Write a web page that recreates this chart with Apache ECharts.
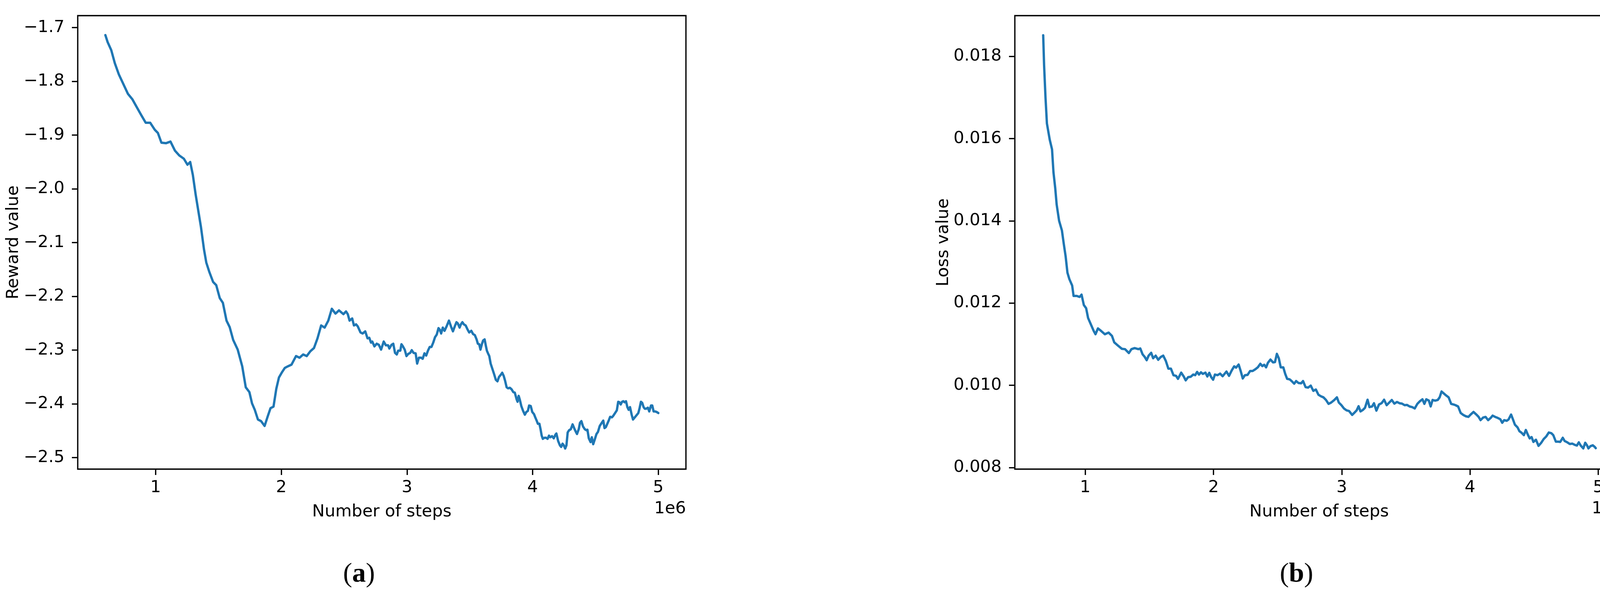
<!DOCTYPE html>
<html>
<head>
<meta charset="utf-8">
<script src="https://cdn.jsdelivr.net/npm/echarts@6/dist/echarts.min.js"></script>
<style>
html,body{margin:0;padding:0;background:#fff;overflow:hidden;}
#chart{width:4179px;height:1522px;}
</style>
</head>
<body>
<div id="chart"></div>
<script>
// ---------- data (steps in units of 1e6) ----------
const rewardSteps = [
  0.600,0.618,0.647,0.675,0.707,0.743,0.779,0.814,0.850,0.886,0.921,0.957,0.993,1.018,1.046,1.082,1.118,1.154,1.189,1.225,
  1.253,1.275,1.296,1.318,1.339,1.360,1.385,1.403,1.428,1.457,1.482,1.510,1.535,1.564,1.589,1.617,1.653,1.689,1.717,1.746,
  1.767,1.789,1.814,1.839,1.867,1.892,1.914,1.938,1.960,1.981,2.003,2.028,2.053,2.081,2.117,2.145,2.174,2.202,2.231,2.260,
  2.288,2.317,2.345,2.374,2.402,2.431,2.459,
  2.494,2.515,2.529,2.543,2.564,2.578,2.595,2.609,2.630,2.647,
  2.668,2.686,2.700,2.714,2.724,2.741,2.759,2.776,2.794,2.815,
  2.832,2.850,2.860,2.877,2.891,2.905,2.919,2.930,2.947,2.956,
  2.968,2.982,2.996,3.010,3.026,3.038,3.052,3.069,3.081,3.095,
  3.113,3.125,3.139,3.153,3.167,3.181,3.195,3.209,3.223,3.237,
  3.251,3.261,3.272,3.285,3.299,3.313,3.334,3.352,3.366,3.380,
  3.394,3.404,3.419,3.429,3.441,3.453,3.467,3.481,3.495,3.512,
  3.526,3.540,3.554,3.564,3.575,3.585,3.596,3.606,3.618,3.627,
  3.636,3.645,3.655,3.666,3.680,3.694,3.707,3.720,3.732,3.746,
  3.758,3.770,3.781,3.793,3.805,3.819,3.833,3.846,3.858,3.872,
  3.880,3.889,3.899,3.910,3.924,3.938,3.950,3.962,3.972,3.985,
  3.997,4.011,4.021,4.032,4.042,4.054,4.063,4.072,4.081,4.094,
  4.107,4.119,4.130,4.140,4.154,4.168,4.182,4.189,4.203,4.217,
  4.227,4.238,4.248,4.259,4.269,4.279,4.290,4.304,4.318,4.332,
  4.342,4.353,4.367,4.377,4.388,4.401,4.415,4.429,4.436,4.447,
  4.461,4.471,4.482,4.496,4.508,4.520,4.534,4.548,4.562,4.572,
  4.583,4.596,4.607,4.617,4.631,4.642,4.656,4.670,4.681,4.691,
  4.701,4.712,4.722,4.733,4.743,4.754,4.764,4.775,4.788,4.799,
  4.813,4.827,4.841,4.851,4.862,4.872,4.883,4.893,4.904,4.917,
  4.928,4.942,4.952,4.963,4.976,4.987,5.000];
const rewardValues = [
  -1.714,-1.727,-1.742,-1.766,-1.787,-1.805,-1.823,-1.833,-1.848,-1.863,-1.877,-1.877,-1.890,-1.896,-1.914,-1.915,-1.912,-1.929,-1.938,-1.944,
  -1.955,-1.950,-1.974,-2.010,-2.040,-2.070,-2.113,-2.137,-2.155,-2.173,-2.179,-2.203,-2.212,-2.245,-2.257,-2.281,-2.299,-2.330,-2.369,-2.378,
  -2.399,-2.411,-2.429,-2.432,-2.441,-2.423,-2.408,-2.405,-2.372,-2.351,-2.342,-2.333,-2.330,-2.327,-2.311,-2.314,-2.308,-2.311,-2.302,-2.296,
  -2.278,-2.254,-2.258,-2.245,-2.223,-2.232,-2.226,
  -2.233,-2.228,-2.233,-2.245,-2.241,-2.254,-2.252,-2.256,-2.267,-2.269,
  -2.265,-2.278,-2.277,-2.286,-2.284,-2.293,-2.288,-2.290,-2.299,-2.284,
  -2.291,-2.291,-2.297,-2.290,-2.288,-2.305,-2.308,-2.301,-2.301,-2.289,
  -2.293,-2.299,-2.311,-2.307,-2.305,-2.300,-2.305,-2.306,-2.325,-2.314,
  -2.314,-2.316,-2.306,-2.310,-2.301,-2.294,-2.294,-2.286,-2.276,-2.271,
  -2.259,-2.262,-2.269,-2.258,-2.264,-2.257,-2.245,-2.257,-2.265,-2.256,
  -2.248,-2.250,-2.258,-2.252,-2.248,-2.252,-2.254,-2.261,-2.267,-2.264,
  -2.270,-2.272,-2.280,-2.288,-2.289,-2.299,-2.289,-2.282,-2.280,-2.291,
  -2.301,-2.306,-2.311,-2.325,-2.335,-2.345,-2.355,-2.358,-2.350,-2.346,
  -2.342,-2.348,-2.357,-2.369,-2.371,-2.370,-2.373,-2.378,-2.379,-2.391,
  -2.396,-2.385,-2.393,-2.404,-2.413,-2.420,-2.415,-2.413,-2.403,-2.404,
  -2.415,-2.419,-2.425,-2.431,-2.437,-2.437,-2.447,-2.459,-2.465,-2.463,
  -2.463,-2.465,-2.459,-2.462,-2.460,-2.464,-2.457,-2.455,-2.469,-2.477,
  -2.480,-2.474,-2.477,-2.483,-2.477,-2.453,-2.449,-2.447,-2.438,-2.446,
  -2.451,-2.456,-2.447,-2.435,-2.432,-2.442,-2.447,-2.449,-2.448,-2.464,
  -2.471,-2.462,-2.475,-2.465,-2.456,-2.452,-2.441,-2.436,-2.431,-2.445,
  -2.443,-2.436,-2.430,-2.424,-2.425,-2.422,-2.417,-2.412,-2.396,-2.397,
  -2.401,-2.396,-2.395,-2.397,-2.395,-2.406,-2.411,-2.406,-2.420,-2.429,
  -2.425,-2.421,-2.417,-2.408,-2.396,-2.398,-2.406,-2.409,-2.409,-2.407,
  -2.414,-2.403,-2.403,-2.414,-2.414,-2.415,-2.417];

const lossSteps = [
  0.672,0.679,0.690,0.701,0.723,0.741,0.752,0.766,0.777,0.796,0.818,0.832,0.847,0.861,0.876,0.898,0.909,0.934,0.956,0.971,
  0.989,1.007,1.022,1.044,1.066,1.080,1.099,1.124,1.153,1.182,1.208,1.226,1.255,1.285,
  1.310,1.340,1.360,1.385,1.414,1.429,1.447,1.464,1.479,1.494,
  1.514,1.529,1.549,1.569,1.589,1.608,1.628,1.648,1.668,1.688,
  1.708,1.723,1.748,1.768,1.783,1.802,1.822,1.842,1.857,1.872,
  1.887,1.902,1.917,1.937,1.952,1.967,1.982,1.997,2.011,2.031,
  2.051,2.071,2.086,2.101,2.121,2.141,2.161,2.176,2.196,2.211,
  2.228,2.245,2.265,2.285,2.305,2.325,2.345,2.365,2.380,2.395,
  2.410,2.424,2.444,2.464,2.479,2.494,2.509,2.524,2.544,2.559,
  2.574,2.594,2.609,2.629,2.644,2.663,2.683,2.698,2.718,2.738,
  2.758,2.778,2.798,2.818,2.838,2.857,2.877,2.897,2.917,2.942,
  2.962,2.977,2.997,3.017,3.037,3.057,3.081,3.101,3.116,3.131,
  3.146,3.166,3.181,3.201,3.216,3.236,3.251,3.270,3.290,3.310,
  3.330,3.350,3.370,3.390,3.410,3.430,3.450,3.470,3.490,3.509,
  3.529,3.549,3.569,3.589,3.609,3.629,3.644,3.659,3.679,3.693,
  3.708,3.728,3.748,3.763,3.778,3.793,3.813,3.833,3.853,3.873,
  3.887,3.907,3.927,3.947,3.967,3.987,4.007,4.027,4.047,4.067,
  4.082,4.102,4.121,4.141,4.161,4.176,4.196,4.216,4.236,4.251,
  4.266,4.286,4.300,4.320,4.335,4.350,4.370,4.385,4.400,4.420,
  4.435,4.450,4.465,4.480,4.494,4.514,4.534,4.554,4.574,4.594,
  4.614,4.634,4.649,4.669,4.689,4.703,4.723,4.738,4.758,4.778,
  4.798,4.818,4.833,4.848,4.863,4.883,4.898,4.913,4.923,4.938,
  4.957,4.972,4.980];
const lossValues = [
  0.018513,0.017787,0.016998,0.016368,0.015973,0.015737,0.015185,0.014790,0.014396,0.014002,0.013765,0.013450,0.013134,0.012740,0.012582,0.012424,0.012172,0.012172,0.012148,0.012204,
  0.011951,0.011872,0.011636,0.011478,0.011320,0.011241,0.011383,0.011320,0.011241,0.011281,0.011202,0.011044,0.010965,0.010887,
  0.010878,0.010783,0.010878,0.010904,0.010878,0.010894,0.010752,0.010688,0.010609,0.010720,
  0.010790,0.010657,0.010720,0.010619,0.010688,0.010720,0.010593,0.010403,0.010403,0.010244,
  0.010229,0.010156,0.010308,0.010213,0.010118,0.010197,0.010206,0.010260,0.010245,0.010324,
  0.010260,0.010315,0.010276,0.010308,0.010213,0.010302,0.010197,0.010134,0.010260,0.010245,
  0.010283,0.010219,0.010276,0.010333,0.010229,0.010355,0.010460,0.010428,0.010504,0.010355,
  0.010165,0.010245,0.010251,0.010346,0.010346,0.010387,0.010435,0.010523,0.010466,0.010498,
  0.010435,0.010546,0.010625,0.010555,0.010562,0.010764,0.010657,0.010435,0.010435,0.010276,
  0.010156,0.010143,0.010102,0.010038,0.010102,0.010054,0.010048,0.010102,0.009953,0.009943,
  0.009991,0.009864,0.009896,0.009769,0.009731,0.009706,0.009642,0.009547,0.009579,0.009642,
  0.009706,0.009579,0.009515,0.009436,0.009389,0.009373,0.009278,0.009341,0.009389,0.009490,
  0.009363,0.009404,0.009452,0.009648,0.009468,0.009484,0.009563,0.009382,0.009531,0.009563,
  0.009648,0.009515,0.009579,0.009642,0.009553,0.009594,0.009563,0.009553,0.009515,0.009521,
  0.009484,0.009468,0.009436,0.009547,0.009610,0.009658,0.009547,0.009658,0.009626,0.009484,
  0.009642,0.009626,0.009642,0.009706,0.009848,0.009807,0.009753,0.009706,0.009547,0.009531,
  0.009515,0.009484,0.009325,0.009278,0.009246,0.009230,0.009294,0.009351,0.009294,0.009230,
  0.009151,0.009214,0.009230,0.009151,0.009205,0.009262,0.009230,0.009205,0.009173,0.009087,
  0.009151,0.009135,0.009167,0.009287,0.009167,0.009040,0.008977,0.008882,0.008850,0.008787,
  0.008913,0.008802,0.008707,0.008739,0.008621,0.008675,0.008526,0.008596,0.008691,0.008754,
  0.008850,0.008834,0.008787,0.008628,0.008628,0.008621,0.008723,0.008643,0.008612,0.008571,
  0.008580,0.008548,0.008533,0.008612,0.008533,0.008463,0.008602,0.008533,0.008463,0.008517,
  0.008539,0.008501,0.008469];

// ---------- tick labels ----------
const stepTicks = [1, 2, 3, 4, 5];
const rewardTicks = [-2.5, -2.4, -2.3, -2.2, -2.1, -2.0, -1.9, -1.8, -1.7];
const lossTicks = [0.008, 0.010, 0.012, 0.014, 0.016, 0.018];

const xAxisTitle = 'Number of steps';
const rewardTitle = 'Reward value';
const lossTitle = 'Loss value';
const offsetText = '1e6';
const captionA = 'a';
const captionB = 'b';

// ---------- build ----------
const zip = (xs, ys) => xs.map((x, i) => [x, ys[i]]).filter(p => p[1] !== undefined);
const FONT = 'DejaVu Sans';
const FS = 43;
const BLUE = '#1f77b4';

function xAxisCfg(idx, min, max) {
  return {
    type: 'value', gridIndex: idx, min: min, max: max,
    name: xAxisTitle, nameLocation: 'middle', nameGap: 88,
    nameTextStyle: { fontFamily: FONT, fontSize: FS, color: '#000' },
    axisLine: { show: false },
    axisTick: { show: true, length: 15, lineStyle: { color: '#000', width: 3.3 }, customValues: stepTicks },
    axisLabel: { show: true, margin: 26, fontFamily: FONT, fontSize: FS, color: '#000', customValues: stepTicks,
      formatter: v => String(Math.round(v)) },
    splitLine: { show: false }
  };
}
function yAxisCfg(idx, min, max, ticks, title, fmt, gap) {
  return {
    type: 'value', gridIndex: idx, min: min, max: max,
    name: title, nameLocation: 'middle', nameGap: gap, nameRotate: 90,
    nameTextStyle: { fontFamily: FONT, fontSize: FS, color: '#000' },
    axisLine: { show: false },
    axisTick: { show: true, length: 15, lineStyle: { color: '#000', width: 3.3 }, customValues: ticks },
    axisLabel: { show: true, margin: 34, fontFamily: FONT, fontSize: FS, color: '#000', customValues: ticks,
      formatter: fmt },
    splitLine: { show: false }
  };
}
const rewardFmt = v => (v < 0 ? '\u2212' : '') + Math.abs(v).toFixed(1);
const lossFmt = v => v.toFixed(3);

function caption(x, letter) {
  return { type: 'text', x: x, y: 1470, style: { text: '{p|(}{b|' + letter + '}{p|)}', textAlign: 'center', textVerticalAlign: 'middle',
    rich: { p: { fontFamily: 'Liberation Serif', fontSize: 70, fill: '#000' },
            b: { fontFamily: 'Liberation Serif', fontSize: 70, fontWeight: 'bold', fill: '#000' } } } };
}

const chart = echarts.init(document.getElementById('chart'), null, { renderer: 'canvas' });
chart.setOption({
  backgroundColor: '#ffffff',
  animation: false,
  grid: [
    { left: 199, top: 40, width: 1557, height: 1160, show: true, borderColor: '#000', borderWidth: 3.3,
      backgroundColor: 'transparent', containLabel: false, outerBoundsMode: 'none' },
    { left: 2598, top: 40, width: 1558, height: 1160, show: true, borderColor: '#000', borderWidth: 3.3,
      backgroundColor: 'transparent', containLabel: false, outerBoundsMode: 'none' }
  ],
  xAxis: [ xAxisCfg(0, 0.38, 5.22), xAxisCfg(1, 0.451, 5.196) ],
  yAxis: [
    yAxisCfg(0, -2.5213, -1.6777, rewardTicks, rewardTitle, rewardFmt, 134),
    yAxisCfg(1, 0.00796, 0.01899, lossTicks, lossTitle, lossFmt, 153)
  ],
  series: [
    { type: 'line', xAxisIndex: 0, yAxisIndex: 0, data: zip(rewardSteps, rewardValues),
      showSymbol: false, symbol: 'none', lineStyle: { color: BLUE, width: 6, join: 'round', cap: 'round' }, z: 3 },
    { type: 'line', xAxisIndex: 1, yAxisIndex: 1, data: zip(lossSteps, lossValues),
      showSymbol: false, symbol: 'none', lineStyle: { color: BLUE, width: 6, join: 'round', cap: 'round' }, z: 3 }
  ],
  graphic: [
    { type: 'text', x: 1756, y: 1302, style: { text: offsetText, fontFamily: FONT, fontSize: FS, fill: '#000',
      textAlign: 'right', textVerticalAlign: 'middle' } },
    { type: 'text', x: 4156, y: 1302, style: { text: offsetText, fontFamily: FONT, fontSize: FS, fill: '#000',
      textAlign: 'right', textVerticalAlign: 'middle' } },
    caption(919, captionA),
    caption(3319, captionB)
  ]
});
</script>
</body>
</html>
